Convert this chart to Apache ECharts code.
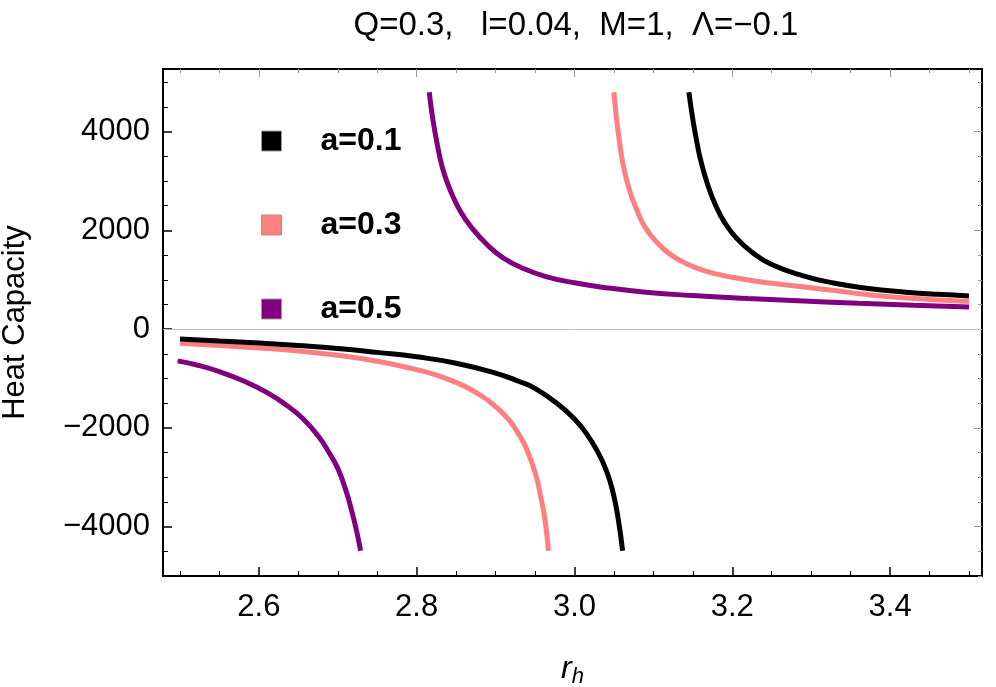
<!DOCTYPE html>
<html>
<head>
<meta charset="utf-8">
<script src="https://cdn.jsdelivr.net/npm/echarts@6/dist/echarts.min.js"></script>
<style>
  html, body { margin: 0; padding: 0; background: #fff; }
  #chart { width: 996px; height: 687px; }
</style>
</head>
<body>
<div id="chart"></div>
<script>
// values, [r_h, C]
var a01_neg = [[2.50,-200],[2.55,-240],[2.60,-280],[2.65,-330],[2.70,-390],[2.75,-470],[2.80,-560],[2.85,-690],[2.90,-890],[2.93,-1060],[2.95,-1200],[2.98,-1530],[3.00,-1820],[3.015,-2110],[3.03,-2500],[3.04,-2850],[3.048,-3250],[3.055,-3800],[3.061,-4490]];
var a01_pos = [[3.145,4800],[3.150,4250],[3.155,3800],[3.160,3420],[3.170,2870],[3.180,2470],[3.190,2170],[3.205,1850],[3.225,1560],[3.25,1310],[3.29,1080],[3.33,930],[3.37,830],[3.42,750],[3.46,705],[3.50,674]];
var a03_neg = [[2.50,-283],[2.55,-330],[2.60,-380],[2.65,-440],[2.70,-530],[2.75,-650],[2.80,-820],[2.825,-930],[2.85,-1080],[2.865,-1190],[2.88,-1330],[2.895,-1500],[2.91,-1720],[2.92,-1900],[2.93,-2150],[2.938,-2380],[2.95,-2900],[2.958,-3450],[2.963,-3900],[2.967,-4490]];
var a03_pos = [[3.050,4800],[3.053,4300],[3.057,3800],[3.062,3300],[3.070,2800],[3.080,2380],[3.090,2050],[3.105,1750],[3.120,1530],[3.140,1340],[3.165,1180],[3.20,1050],[3.25,930],[3.30,840],[3.35,740],[3.40,655],[3.45,603],[3.50,559]];
var a05_neg = [[2.497,-642],[2.52,-720],[2.55,-860],[2.58,-1045],[2.61,-1280],[2.635,-1540],[2.655,-1800],[2.675,-2160],[2.69,-2530],[2.70,-2820],[2.71,-3250],[2.718,-3700],[2.724,-4100],[2.729,-4490]];
var a05_pos = [[2.816,4800],[2.820,4300],[2.826,3750],[2.833,3250],[2.843,2800],[2.855,2400],[2.870,2050],[2.890,1700],[2.910,1440],[2.935,1230],[2.965,1060],[3.00,940],[3.04,840],[3.09,750],[3.15,680],[3.22,620],[3.29,570],[3.36,525],[3.43,485],[3.50,451]];

var xMajor = [2.6, 2.8, 3.0, 3.2, 3.4];
var xMinor = [2.5,2.55,2.65,2.7,2.75,2.85,2.9,2.95,3.05,3.1,3.15,3.25,3.3,3.35,3.45,3.5];
var yMajor = [-4000, -2000, 0, 2000, 4000];
var yMinor = [-5000,-4500,-3500,-3000,-2500,-1500,-1000,-500,500,1000,1500,2500,3000,3500,4500,5000];

var names = ['a=0.1', 'a=0.3', 'a=0.5'];
var colors = ['#000000', '#ff7f7f', '#800080'];

var font = 'Liberation Sans';
var xMin = 2.4785, xMax = 3.5165, yMin = -5000, yMax = 5270;

function tickAxis(pos, vals, len, col, line) {
  var isX = pos === 'bottom' || pos === 'top';
  return {
    type: 'value', position: pos, min: isX ? xMin : yMin, max: isX ? xMax : yMax,
    axisLine: { show: line, onZero: false, lineStyle: { color: '#000', width: 2 } },
    axisTick: { show: true, inside: true, length: len, customValues: vals, lineStyle: { color: col, width: 1 } },
    axisLabel: { show: false },
    splitLine: { show: false }
  };
}

var myChart = echarts.init(document.getElementById('chart'));

var series = [];
var parts = [[a01_neg, a01_pos], [a03_neg, a03_pos], [a05_neg, a05_pos]];
for (var i = 0; i < 3; i++) {
  for (var j = 0; j < 2; j++) {
    series.push({
      name: names[i],
      type: 'line',
      data: parts[i][j],
      smooth: 0.5,
      showSymbol: false,
      lineStyle: { color: colors[i], width: 5 },
      itemStyle: { color: colors[i] },
      z: 3 + (2 - i)
    });
  }
}
// thin grey zero line
series[5].markLine = {
  silent: true, symbol: 'none', label: { show: false },
  lineStyle: { color: '#c0c0c0', width: 1, type: 'solid' },
  data: [{ yAxis: 0 }], z: 1
};

option = {
  animation: false,
  backgroundColor: '#fff',
  title: {
    text: 'Q=0.3,   l=0.04,  M=1,  \u039b=\u22120.1',
    left: 571, top: 4, textAlign: 'center',
    textStyle: { fontFamily: font, fontSize: 33, fontWeight: 'normal', color: '#000' }
  },
  legend: {
    orient: 'vertical', left: 256, top: 120, itemGap: 52,
    icon: 'rect', itemWidth: 20, itemHeight: 20,
    itemStyle: { borderColor: '#999', borderWidth: 1 },
    data: names,
    textStyle: { fontFamily: font, fontSize: 32, fontWeight: 'bold', color: '#000', padding: [0, 0, 0, 34] }
  },
  grid: { left: 163, right: 14, top: 69, bottom: 111, outerBoundsMode: 'none', containLabel: false },
  xAxis: [
    {
      type: 'value', position: 'bottom', min: xMin, max: xMax,
      name: '{i|r}{s|h}', nameLocation: 'middle', nameGap: 74,
      nameTextStyle: {
        rich: {
          i: { fontFamily: font, fontSize: 32, fontStyle: 'italic', color: '#000' },
          s: { fontFamily: font, fontSize: 22, fontStyle: 'italic', color: '#000', verticalAlign: 'bottom', padding: [16, 0, 0, 0] }
        }
      },
      axisLine: { show: true, onZero: false, lineStyle: { color: '#000', width: 2 } },
      axisTick: { show: true, inside: true, length: 9, customValues: xMajor, lineStyle: { color: '#000', width: 1.5 } },
      axisLabel: {
        customValues: xMajor, margin: 16, fontFamily: font, fontSize: 31, color: '#000',
        formatter: function (v) { return v.toFixed(1); }
      },
      splitLine: { show: false }
    },
    tickAxis('bottom', xMinor, 5, '#000', false),
    tickAxis('top', xMajor, 8, '#999', true),
    tickAxis('top', xMinor, 4, '#999', false)
  ],
  yAxis: [
    {
      type: 'value', position: 'left', min: yMin, max: yMax,
      name: 'Heat Capacity', nameLocation: 'middle', nameGap: 132, nameRotate: 90,
      nameTextStyle: { fontFamily: font, fontSize: 31, color: '#000' },
      axisLine: { show: true, onZero: false, lineStyle: { color: '#000', width: 2 } },
      axisTick: { show: true, inside: true, length: 9, customValues: yMajor, lineStyle: { color: '#000', width: 1.5 } },
      axisLabel: {
        customValues: yMajor, margin: 13, fontFamily: font, fontSize: 31, color: '#000',
        formatter: function (v) { return v < 0 ? '\u2212' + Math.abs(v) : String(v); }
      },
      splitLine: { show: false }
    },
    tickAxis('left', yMinor, 5, '#000', false),
    tickAxis('right', yMajor, 8, '#999', true),
    tickAxis('right', yMinor, 4, '#999', false)
  ],
  series: series
};

myChart.setOption(option);
</script>
</body>
</html>
